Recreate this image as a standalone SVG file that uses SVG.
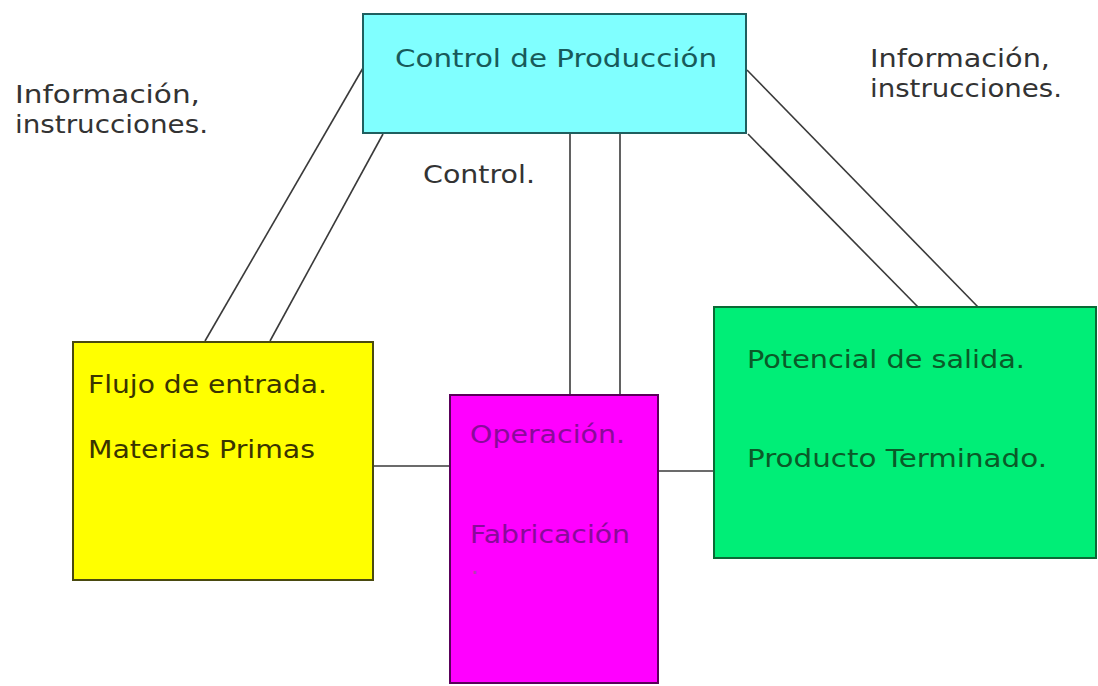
<svg xmlns="http://www.w3.org/2000/svg" width="1098" height="686" viewBox="0 0 1098 686">
  <style>
    .box { stroke-width: 2; }
    .link { stroke: #3a3a3a; stroke-width: 1.6; fill: none; }
    text { font-family: "DejaVu Sans", "Liberation Sans", sans-serif; font-size: 24px; }
    .lbl { fill: #333333; }
  </style>
  <rect width="1098" height="686" fill="#ffffff"/>

  <!-- connectors -->
  <g id="connectors">
    <line class="link" x1="363" y1="68" x2="205" y2="341"/>
    <line class="link" x1="383" y1="134" x2="270" y2="341"/>
    <line class="link" x1="570" y1="133" x2="570" y2="395"/>
    <line class="link" x1="620" y1="133" x2="620" y2="395"/>
    <line class="link" x1="747" y1="70" x2="978" y2="307"/>
    <line class="link" x1="748" y1="134" x2="918" y2="307"/>
    <line class="link" x1="373" y1="466" x2="450" y2="466"/>
    <line class="link" x1="658" y1="471" x2="714" y2="471"/>
  </g>

  <!-- free labels -->
  <g id="labels">
    <text class="lbl" x="15" y="103" textLength="185" lengthAdjust="spacingAndGlyphs">Información,</text>
    <text class="lbl" x="15" y="133" textLength="193" lengthAdjust="spacingAndGlyphs">instrucciones.</text>
    <text class="lbl" x="870" y="67" textLength="180" lengthAdjust="spacingAndGlyphs">Información,</text>
    <text class="lbl" x="870" y="97" textLength="192" lengthAdjust="spacingAndGlyphs">instrucciones.</text>
    <text class="lbl" x="423" y="183" textLength="112" lengthAdjust="spacingAndGlyphs">Control.</text>
  </g>

  <g id="control">
    <rect class="box" x="363" y="14" width="383" height="119" fill="#80ffff" stroke="#1f5f5f"/>
    <text x="395" y="67" fill="#185a5a" textLength="322" lengthAdjust="spacingAndGlyphs">Control de Producción</text>
  </g>

  <g id="entrada">
    <rect class="box" x="73" y="342" width="300" height="238" fill="#ffff00" stroke="#4a4a10"/>
    <text x="88" y="393" fill="#3a3400" textLength="239" lengthAdjust="spacingAndGlyphs">Flujo de entrada.</text>
    <text x="88" y="458" fill="#3a3400" textLength="227" lengthAdjust="spacingAndGlyphs">Materias Primas</text>
  </g>

  <g id="operacion">
    <rect class="box" x="450" y="395" width="208" height="288" fill="#ff00ff" stroke="#5a005a"/>
    <text x="470" y="443" fill="#8a0a9a" textLength="155" lengthAdjust="spacingAndGlyphs">Operación.</text>
    <text x="470" y="543" fill="#8a0a9a" textLength="160" lengthAdjust="spacingAndGlyphs">Fabricación</text>
    <text x="471" y="574" fill="#b040b0" font-size="10">.</text>
  </g>

  <g id="salida">
    <rect class="box" x="714" y="307" width="382" height="251" fill="#00ee77" stroke="#0a6a35"/>
    <text x="747" y="368" fill="#0a5a28" textLength="278" lengthAdjust="spacingAndGlyphs">Potencial de salida.</text>
    <text x="747" y="467" fill="#0a5a28" textLength="300" lengthAdjust="spacingAndGlyphs">Producto Terminado.</text>
  </g>
</svg>
